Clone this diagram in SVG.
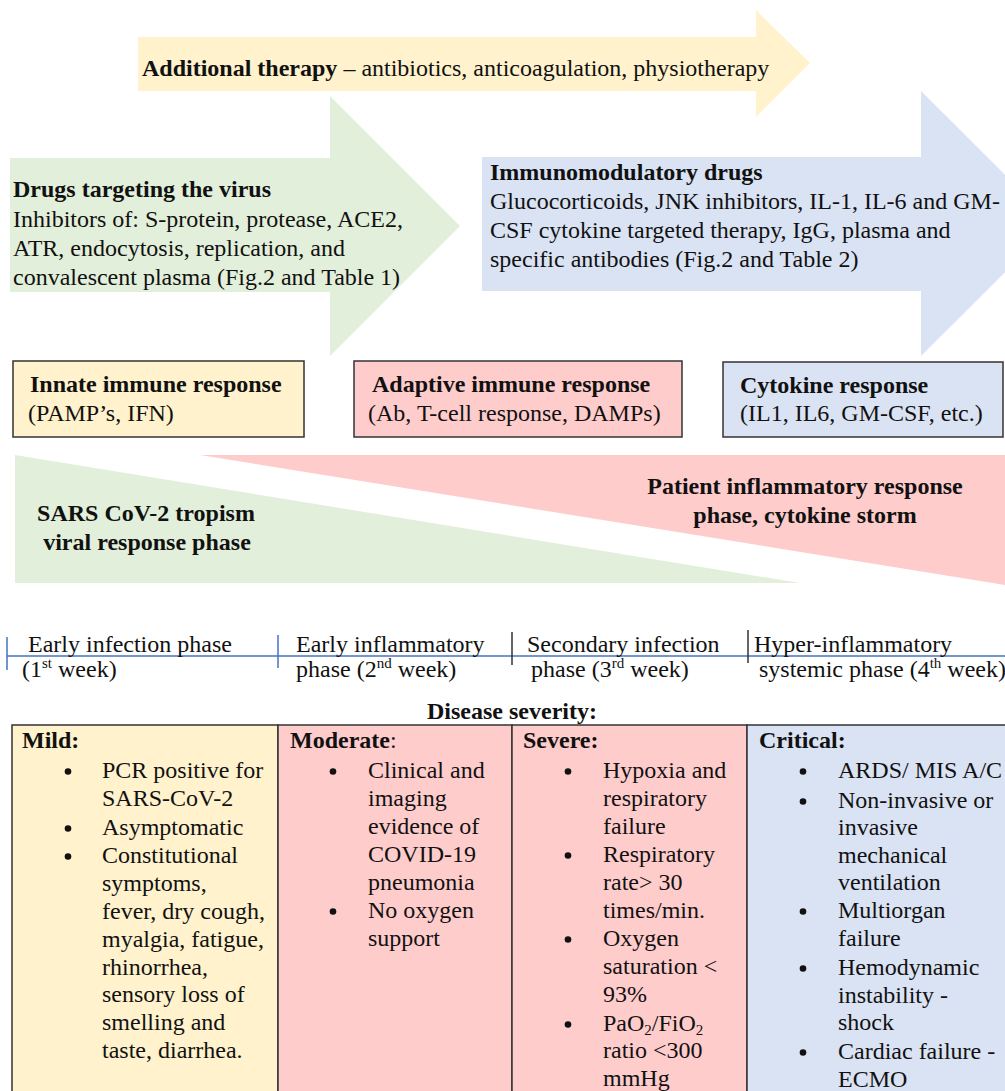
<svg xmlns="http://www.w3.org/2000/svg" width="1005" height="1091" viewBox="0 0 1005 1091">
<style>
text{font-family:"Liberation Serif","Times New Roman",serif;font-size:24px;fill:#111}
.b{font-weight:bold}
.c{text-anchor:middle}
.box{stroke:#333;stroke-width:1.5}
.yel{fill:#FFF2CC}.grn{fill:#E2EFDA}.blu{fill:#DAE3F3}.pnk{fill:#FFCCCC}
.sup{font-size:15px}
.sub{font-size:15px}
.tick{stroke-width:1.5}
</style>
<rect width="1005" height="1091" fill="#fff"/>
<g id="arrow-additional">
<polygon class="yel" points="138,37 756,37 756,10 810,63 756,117 756,91 138,91"/>
<text x="142" y="76"><tspan class="b">Additional therapy</tspan> – antibiotics, anticoagulation, physiotherapy</text>
</g>
<g id="arrow-virus">
<polygon class="grn" points="10,158 330,158 330,96 460,226 330,356 330,292 10,292"/>
<text x="13" y="197" class="b">Drugs targeting the virus</text>
<text x="13" y="227">Inhibitors of: S-protein, protease, ACE2,</text>
<text x="13" y="256">ATR, endocytosis, replication, and</text>
<text x="13" y="285">convalescent plasma (Fig.2 and Table 1)</text>
</g>
<g id="arrow-immuno">
<polygon class="blu" points="482,157 921,157 921,91 1054,223.5 921,356 921,291 482,291"/>
<text x="490" y="180" class="b">Immunomodulatory drugs</text>
<text x="490" y="209">Glucocorticoids, JNK inhibitors, IL-1, IL-6 and GM-</text>
<text x="490" y="238">CSF cytokine targeted therapy, IgG, plasma and</text>
<text x="490" y="267">specific antibodies (Fig.2 and Table 2)</text>
</g>
<g id="box-innate">
<rect class="yel box" x="13" y="361" width="291" height="76"/>
<text x="30" y="392" class="b">Innate immune response</text>
<text x="28" y="421">(PAMP’s, IFN)</text>
</g>
<g id="box-adaptive">
<rect class="pnk box" x="354" y="361" width="328" height="76"/>
<text x="372" y="392" class="b">Adaptive immune response</text>
<text x="368" y="421">(Ab, T-cell response, DAMPs)</text>
</g>
<g id="box-cytokine">
<rect class="blu box" x="723" y="362" width="280" height="75"/>
<text x="740" y="393" class="b">Cytokine response</text>
<text x="740" y="421">(IL1, IL6, GM-CSF, etc.)</text>
</g>
<g id="phase-viral">
<polygon class="grn" points="15,455 15,583 800,583"/>
<text x="146" y="521" class="b c">SARS CoV-2 tropism</text>
<text x="147" y="550" class="b c">viral response phase</text>
</g>
<g id="phase-inflammatory">
<polygon class="pnk" points="200,455 1005,455 1005,585"/>
<text x="805" y="494" class="b c">Patient inflammatory response</text>
<text x="805" y="523" class="b c">phase, cytokine storm</text>
</g>
<g id="connectors">
<line x1="7" y1="656" x2="1005" y2="656" stroke="#4472C4" stroke-width="1.5"/>
<line class="tick" x1="7" y1="637" x2="7" y2="670" stroke="#4472C4"/>
<line class="tick" x1="278" y1="635" x2="278" y2="668" stroke="#4472C4"/>
<line class="tick" x1="512" y1="632" x2="512" y2="665" stroke="#333"/>
<line class="tick" x1="748" y1="630" x2="748" y2="663" stroke="#333"/>
</g>
<g id="timeline-labels">
<text x="28" y="652">Early infection phase</text>
<text x="22" y="677">(1<tspan class="sup" dy="-9">st</tspan><tspan dy="9"> week)</tspan></text>
<text x="296" y="652">Early inflammatory</text>
<text x="296" y="677">phase (2<tspan class="sup" dy="-9">nd</tspan><tspan dy="9"> week)</tspan></text>
<text x="527" y="652">Secondary infection</text>
<text x="531" y="677">phase (3<tspan class="sup" dy="-9">rd</tspan><tspan dy="9"> week)</tspan></text>
<text x="754" y="652">Hyper-inflammatory</text>
<text x="759" y="677">systemic phase (4<tspan class="sup" dy="-9">th</tspan><tspan dy="9"> week)</tspan></text>
</g>
<text x="512" y="719" class="b c">Disease severity:</text>
<g id="col-mild">
<rect class="yel box" x="12" y="725" width="266" height="380"/>
<text x="22" y="748" class="b">Mild:</text>
<circle cx="68" cy="771.5" r="3.3" fill="#111"/>
<circle cx="68" cy="828.5" r="3.3" fill="#111"/>
<circle cx="68" cy="856.5" r="3.3" fill="#111"/>
<text x="102" y="778">PCR positive for</text>
<text x="102" y="806">SARS-CoV-2</text>
<text x="102" y="835">Asymptomatic</text>
<text x="102" y="863">Constitutional</text>
<text x="102" y="891">symptoms,</text>
<text x="102" y="919">fever, dry cough,</text>
<text x="102" y="947">myalgia, fatigue,</text>
<text x="102" y="975">rhinorrhea,</text>
<text x="102" y="1002">sensory loss of</text>
<text x="102" y="1030">smelling and</text>
<text x="102" y="1058">taste, diarrhea.</text>
</g>
<g id="col-moderate">
<rect class="pnk box" x="278" y="725" width="234" height="380"/>
<text x="290" y="748"><tspan class="b">Moderate</tspan>:</text>
<circle cx="333" cy="771.5" r="3.3" fill="#111"/>
<circle cx="333" cy="911.5" r="3.3" fill="#111"/>
<text x="368" y="778">Clinical and</text>
<text x="368" y="806">imaging</text>
<text x="368" y="834">evidence of</text>
<text x="368" y="862">COVID-19</text>
<text x="368" y="890">pneumonia</text>
<text x="368" y="918">No oxygen</text>
<text x="368" y="946">support</text>
</g>
<g id="col-severe">
<rect class="pnk box" x="512" y="725" width="235" height="380"/>
<text x="523" y="748" class="b">Severe:</text>
<circle cx="568" cy="771.5" r="3.3" fill="#111"/>
<circle cx="568" cy="855.5" r="3.3" fill="#111"/>
<circle cx="568" cy="939.5" r="3.3" fill="#111"/>
<circle cx="568" cy="1024.5" r="3.3" fill="#111"/>
<text x="603" y="778">Hypoxia and</text>
<text x="603" y="806">respiratory</text>
<text x="603" y="834">failure</text>
<text x="603" y="862">Respiratory</text>
<text x="603" y="890">rate&gt; 30</text>
<text x="603" y="918">times/min.</text>
<text x="603" y="946">Oxygen</text>
<text x="603" y="974">saturation &lt;</text>
<text x="603" y="1002">93%</text>
<text x="603" y="1031">PaO<tspan class="sub" dy="4">2</tspan><tspan dy="-4">/FiO</tspan><tspan class="sub" dy="4">2</tspan></text>
<text x="603" y="1058">ratio &lt;300</text>
<text x="603" y="1086">mmHg</text>
</g>
<g id="col-critical">
<rect class="blu box" x="747" y="725" width="270" height="380"/>
<text x="759" y="748" class="b">Critical:</text>
<circle cx="803" cy="771.5" r="3.3" fill="#111"/>
<circle cx="803" cy="801.5" r="3.3" fill="#111"/>
<circle cx="803" cy="911.5" r="3.3" fill="#111"/>
<circle cx="803" cy="968.5" r="3.3" fill="#111"/>
<circle cx="803" cy="1052.5" r="3.3" fill="#111"/>
<text x="838" y="778">ARDS/ MIS A/C</text>
<text x="838" y="808">Non-invasive or</text>
<text x="838" y="835">invasive</text>
<text x="838" y="863">mechanical</text>
<text x="838" y="890">ventilation</text>
<text x="838" y="918">Multiorgan</text>
<text x="838" y="946">failure</text>
<text x="838" y="975">Hemodynamic</text>
<text x="838" y="1003">instability -</text>
<text x="838" y="1030">shock</text>
<text x="838" y="1059">Cardiac failure -</text>
<text x="838" y="1087">ECMO</text>
</g>
</svg>
